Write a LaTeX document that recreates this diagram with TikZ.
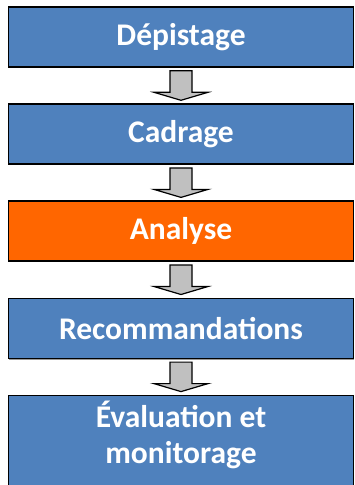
\documentclass[tikz,border=0pt]{standalone}
\usepackage{fontspec}
\setmainfont{Carlito}
\usepackage{tikz}
\usetikzlibrary{positioning, calc, shadows}

\definecolor{bleuetape}{HTML}{4F81BD}
\definecolor{orangeetape}{HTML}{FF6600}
\definecolor{grisfleche}{HTML}{C0C0C0}

\tikzset{
    etape/.style={draw=black, line width=1.6pt, fill=bleuetape, text=white,
        minimum width=345pt, minimum height=60pt, inner sep=0pt,
        font=\fontsize{31.5}{36}\selectfont\bfseries, align=center,
        drop shadow={shadow xshift=0.8pt, shadow yshift=-1.2pt, fill=black!40, opacity=1}},
    fleche/.style={draw=black, line width=1.2pt, fill=grisfleche,
        to path={($(\tikztostart.south)+(-11,-3)$) -- ($(\tikztotarget.north)+(-11,11)$)
            -- ($(\tikztotarget.north)+(-27,11)$) -- ($(\tikztotarget.north)+(0,3)$)
            -- ($(\tikztotarget.north)+(27,11)$) -- ($(\tikztotarget.north)+(11,11)$)
            -- ($(\tikztostart.south)+(11,-3)$) -- cycle}}
}

\begin{document}
\begin{tikzpicture}[x=1pt, y=1pt, node distance=35.5pt]
    \useasboundingbox (0,0) rectangle (355,-485);
    \clip (0,0) rectangle (355,-485);

    \node[etape] (depistage) at (181,-37) {Dépistage};
    \node[etape] (cadrage) [below=of depistage] {Cadrage};
    \node[etape, fill=orangeetape] (analyse) [below=of cadrage] {Analyse};
    \node[etape] (recommandations) [below=of analyse] {Recommandations};
    \node[etape, minimum height=120pt, text depth=46pt] (evaluation) [below=of recommandations] {Évaluation et\\monitorage};

    \draw[fleche] (depistage) to (cadrage);
    \draw[fleche] (cadrage) to (analyse);
    \draw[fleche] (analyse) to (recommandations);
    \draw[fleche] (recommandations) to (evaluation);
\end{tikzpicture}
\end{document}
